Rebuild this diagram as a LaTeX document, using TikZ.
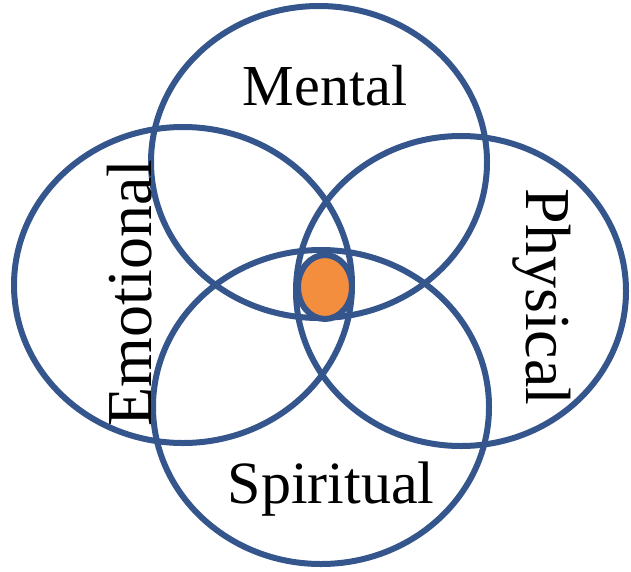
\documentclass[tikz,border=0pt]{standalone}
\usepackage{fontspec}
\setmainfont{Liberation Serif}
\usepackage{tikz}
\definecolor{ringblue}{RGB}{52,86,140}
\definecolor{coreorange}{RGB}{242,142,62}

\begin{document}
\begin{tikzpicture}[x=1pt,y=-1pt,
   ring/.style={draw=ringblue,line width=6pt},
   word/.style={inner sep=0pt,anchor=base,font=\fontsize{58}{60}\selectfont},
   sideword/.style={word,font=\fontsize{64}{66}\selectfont}]
  \useasboundingbox (0,0) rectangle (631,571);
  \coordinate (M) at (319,162);
  \coordinate (E) at (183,285);
  \coordinate (P) at (461,291);
  \coordinate (S) at (321,407);
  \draw[ring] (M) ellipse [x radius=168,y radius=156];
  \draw[ring] (E) ellipse [x radius=169,y radius=158];
  \draw[ring] (P) ellipse [x radius=165,y radius=155];
  \draw[ring] (S) ellipse [x radius=168,y radius=157];
  \draw[ring,fill=coreorange] (325,287) ellipse [x radius=27,y radius=32];
  \node[word] (mental) at (325,105) {Mental};
  \node[sideword,rotate=90] (emotional) at (151,293) {Emotional};
  \node[sideword,rotate=-90] (physical) at (526,297) {Physical};
  \node[word,font=\fontsize{60}{62}\selectfont] (spiritual) at (331,503) {Spiritual};
\end{tikzpicture}
\end{document}
